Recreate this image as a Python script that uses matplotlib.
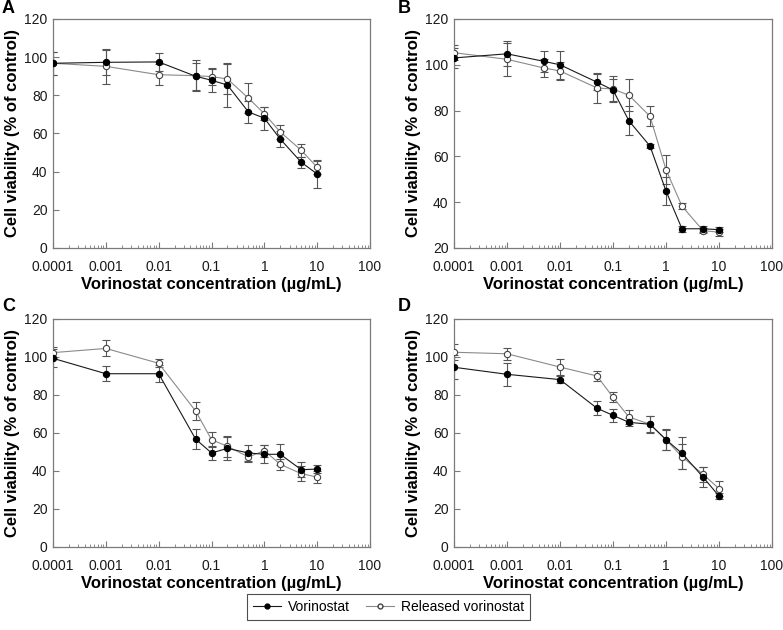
import matplotlib
matplotlib.use("Agg")
import matplotlib.pyplot as plt
from matplotlib.lines import Line2D
from matplotlib.ticker import LogLocator, FixedLocator, NullFormatter

plt.rcParams['font.family'] = ['Liberation Sans', 'DejaVu Sans']

# ---------------- data ----------------
x_A = [0.0001, 0.001, 0.01, 0.05, 0.1, 0.2, 0.5, 1, 2, 5, 10]
vor_A = [96.8, 97.3, 97.5, 90.0, 87.9, 85.4, 71.3, 68.0, 57.1, 44.9, 38.8]
vor_err_A = [6.0, 6.5, 4.5, 7.0, 6.0, 11.5, 5.6, 6.0, 4.0, 3.0, 7.4]
rel_A = [96.8, 95.2, 90.8, 90.3, 89.8, 88.6, 78.5, 70.4, 60.8, 51.2, 42.3]
rel_err_A = [6.0, 9.0, 5.5, 8.0, 4.5, 8.0, 8.0, 3.5, 3.5, 3.3, 3.5]

x_B = [0.0001, 0.001, 0.005, 0.01, 0.05, 0.1, 0.2, 0.5, 1, 2, 5, 10]
vor_B = [103.0, 104.8, 101.5, 100.0, 92.4, 89.0, 75.5, 64.5, 44.9, 28.4, 28.4, 28.0]
vor_err_B = [4.5, 5.5, 4.5, 6.0, 3.6, 5.0, 6.3, 1.0, 6.1, 1.2, 1.2, 1.2]
rel_B = [105.3, 102.4, 98.6, 97.3, 89.9, 89.4, 86.7, 77.5, 54.2, 38.3, 27.6, 26.9]
rel_err_B = [3.3, 7.2, 3.9, 3.9, 6.5, 5.5, 7.0, 4.4, 6.4, 1.2, 1.2, 1.5]

x_C = [0.0001, 0.001, 0.01, 0.05, 0.1, 0.2, 0.5, 1, 2, 5, 10]
vor_C = [99.3, 91.2, 91.2, 56.8, 49.5, 51.9, 49.5, 48.8, 48.8, 40.7, 41.0]
vor_err_C = [4.7, 3.9, 4.5, 5.2, 3.7, 6.1, 4.0, 4.8, 5.6, 4.0, 2.0]
rel_C = [102.3, 104.5, 96.7, 71.6, 56.5, 53.0, 47.4, 50.7, 43.5, 38.6, 36.8]
rel_err_C = [3.0, 4.2, 2.2, 4.9, 3.9, 5.4, 2.7, 3.2, 3.0, 4.0, 3.0]

x_D = [0.0001, 0.001, 0.01, 0.05, 0.1, 0.2, 0.5, 1, 2, 5, 10]
vor_D = [94.6, 90.9, 88.1, 73.0, 69.3, 65.6, 64.6, 56.5, 49.3, 36.8, 26.8]
vor_err_D = [6.3, 6.0, 1.9, 3.7, 3.3, 2.1, 4.4, 5.6, 8.4, 5.2, 1.7]
rel_D = [102.5, 101.7, 94.7, 90.0, 78.8, 68.4, 64.6, 56.5, 47.5, 38.3, 30.7]
rel_err_D = [4.2, 3.2, 4.1, 2.8, 2.6, 3.9, 4.3, 5.2, 6.5, 4.0, 3.9]

panel_labels = ["A", "B", "C", "D"]
x_ticks = [0.0001, 0.001, 0.01, 0.1, 1, 10, 100]
x_tick_labels = ["0.0001", "0.001", "0.01", "0.1", "1", "10", "100"]
y_ranges = [(0, 120), (20, 120), (0, 120), (0, 120)]
x_label = "Vorinostat concentration (\u00b5g/mL)"
y_label = "Cell viability (% of control)"
legend_labels = ["Vorinostat", "Released vorinostat"]

panels = [
    (x_A, vor_A, vor_err_A, rel_A, rel_err_A),
    (x_B, vor_B, vor_err_B, rel_B, rel_err_B),
    (x_C, vor_C, vor_err_C, rel_C, rel_err_C),
    (x_D, vor_D, vor_err_D, rel_D, rel_err_D),
]

# ---------------- figure ----------------
W, H = 783, 630
fig = plt.figure(figsize=(W / 100, H / 100), dpi=100)

# axes boxes in pixel coords: left, right, top, bottom
boxes = [
    (53, 370, 19, 248),
    (454, 772, 19, 248),
    (53, 370, 319, 547),
    (454, 772, 319, 547),
]
letter_pos = [(2, 0), (398, 0), (2, 298), (398, 298)]

spine_col = "#7a7a7a"
vor_col = "#1a1a1a"
rel_col = "#8a8a8a"
err_col = "#555555"

for i, (xs, v, ve, r, re) in enumerate(panels):
    l, rgt, t, b = boxes[i]
    ax = fig.add_axes([l / W, 1 - b / H, (rgt - l) / W, (b - t) / H])
    ax.set_xscale("log")
    ax.set_xlim(0.0001, 100)
    ax.set_ylim(*y_ranges[i])

    ax.errorbar(xs, r, yerr=re, fmt="none", ecolor=err_col, elinewidth=0.8,
                capsize=3, capthick=0.8, zorder=2)
    ax.errorbar(xs, v, yerr=ve, fmt="none", ecolor=err_col, elinewidth=0.8,
                capsize=3, capthick=0.8, zorder=2)
    ax.plot(xs, r, color=rel_col, lw=0.8, marker="o", ms=4.5,
            mfc="white", mec="#444444", mew=0.8, zorder=3)
    ax.plot(xs, v, color=vor_col, lw=0.8, marker="o", ms=4.5,
            mfc="black", mec="black", mew=0.8, zorder=4)

    ax.xaxis.set_major_locator(FixedLocator(x_ticks))
    ax.set_xticklabels(x_tick_labels)
    ax.xaxis.set_minor_locator(LogLocator(base=10, subs=range(2, 10), numticks=20))
    ax.xaxis.set_minor_formatter(NullFormatter())
    lo, hi = y_ranges[i]
    ax.set_yticks(list(range(lo, hi + 1, 20)))

    ax.tick_params(axis="both", which="major", direction="in", length=4,
                   width=0.8, color=spine_col, labelsize=10, labelcolor="#1a1a1a", pad=4)
    ax.tick_params(axis="x", which="minor", direction="in", length=2.5,
                   width=0.6, color=spine_col)
    ax.tick_params(axis="x", which="major", pad=9)
    for s in ax.spines.values():
        s.set_color(spine_col)
        s.set_linewidth(0.9)

    ax.set_xlabel(x_label, fontsize=12, fontweight="bold", labelpad=2)
    ax.set_ylabel(y_label, fontsize=12, fontweight="bold", labelpad=3)

    lx, ly = letter_pos[i]
    fig.text(lx / W, 1 - ly / H, panel_labels[i], fontsize=13, fontweight="bold",
             ha="left", va="top")

handles = [
    Line2D([], [], color=vor_col, lw=0.8, marker="o", ms=3.5, mfc="black", mec="black"),
    Line2D([], [], color=rel_col, lw=0.8, marker="o", ms=3.5, mfc="white", mec="#444444"),
]
leg = fig.legend(handles, legend_labels, loc="center", ncol=2,
                 bbox_to_anchor=(388.5 / W, 1 - 607 / H), frameon=True,
                 fontsize=10, handlelength=2.0, columnspacing=1.2,
                 borderpad=0.45, handletextpad=0.5, fancybox=False)
leg.get_frame().set_edgecolor("#222222")
leg.get_frame().set_linewidth(0.8)

fig.savefig("out.png", dpi=100)
